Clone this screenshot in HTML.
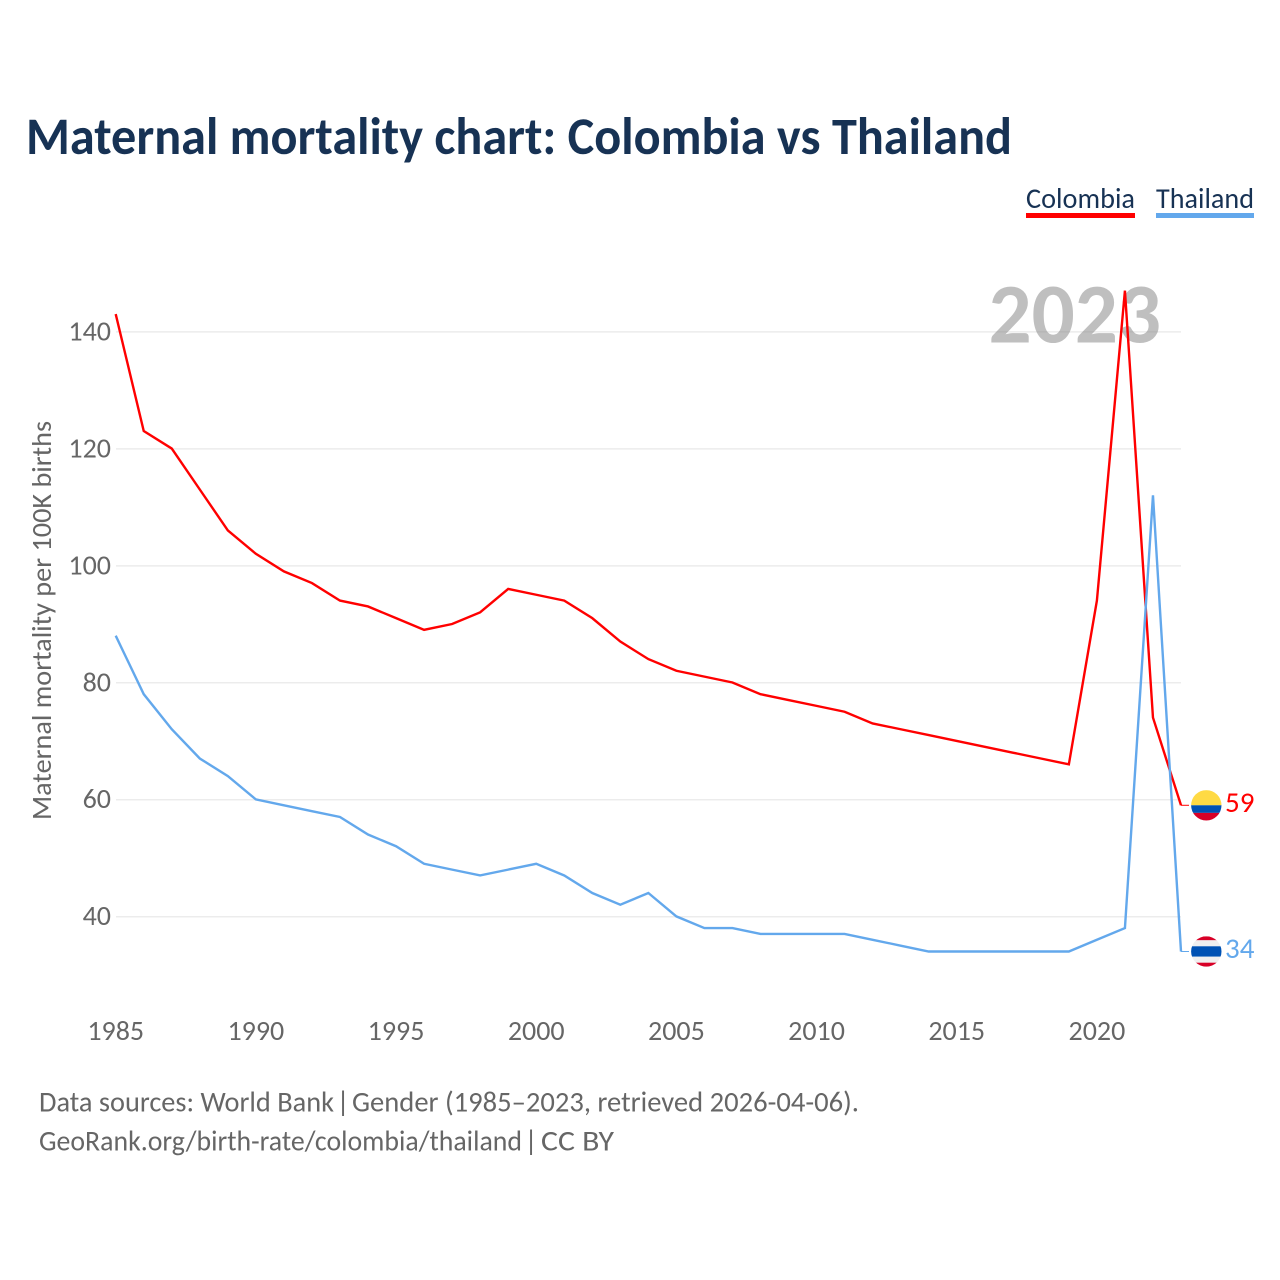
<!DOCTYPE html>
<html lang="en">
<head>
<meta charset="utf-8">
<title>Maternal mortality chart: Colombia vs Thailand</title>
<style>
html,body{margin:0;padding:0;background:#fff;}
svg{display:block;}
text{font-family:"Carlito","Liberation Sans",sans-serif;}
</style>
</head>
<body>
<svg id="chart" xmlns="http://www.w3.org/2000/svg" width="1280" height="1280" viewBox="0 0 1280 1280">
  <rect x="0" y="0" width="1280" height="1280" fill="#fff"/>
  <g id="grid"></g>
  <text x="988.5" y="342.5" font-size="85" font-weight="700" fill="#808080" fill-opacity="0.5" textLength="172.5" lengthAdjust="spacingAndGlyphs">2023</text>
  <g id="yticks"></g>
  <g id="xticks"></g>
  <g id="series"></g>
  <g id="ends"></g>

  <text x="26" y="154" font-size="53" font-weight="700" fill="#173254" textLength="986" lengthAdjust="spacingAndGlyphs">Maternal mortality chart: Colombia vs Thailand</text>

  <g>
    <text x="1026" y="208" font-size="29" fill="#173254" textLength="109" lengthAdjust="spacingAndGlyphs">Colombia</text>
    <rect x="1026" y="213" width="109" height="5" fill="#ff0000"/>
  </g>
  <g>
    <text x="1156" y="208" font-size="29" fill="#173254" textLength="98" lengthAdjust="spacingAndGlyphs">Thailand</text>
    <rect x="1156" y="213" width="98" height="5" fill="#63a8ec"/>
  </g>

  <text transform="translate(51,820) rotate(-90)" x="0" y="0" font-size="28" fill="#666" textLength="399" lengthAdjust="spacingAndGlyphs">Maternal mortality per 100K births</text>

  <g>
    <text x="39" y="1111.5" font-size="29" fill="#666" textLength="295" lengthAdjust="spacingAndGlyphs">Data sources: World Bank</text>
    <text x="343" y="1111.5" font-size="29" fill="#666" text-anchor="middle">|</text>
    <text x="352" y="1111.5" font-size="29" fill="#666" textLength="507" lengthAdjust="spacingAndGlyphs">Gender (1985–2023, retrieved 2026-04-06).</text>
  </g>
  <g>
    <text x="39" y="1150.5" font-size="29" fill="#666" textLength="483" lengthAdjust="spacingAndGlyphs">GeoRank.org/birth-rate/colombia/thailand</text>
    <text x="531" y="1150.5" font-size="29" fill="#666" text-anchor="middle">|</text>
    <text x="541" y="1150.5" font-size="29" fill="#666" textLength="73" lengthAdjust="spacingAndGlyphs">CC BY</text>
  </g>
</svg>
<script>
const years = [1985,1986,1987,1988,1989,1990,1991,1992,1993,1994,1995,1996,1997,1998,1999,2000,2001,2002,2003,2004,2005,2006,2007,2008,2009,2010,2011,2012,2013,2014,2015,2016,2017,2018,2019,2020,2021,2022,2023];
const colombiaValues = [143,123,120,113,106,102,99,97,94,93,91,89,90,92,96,95,94,91,87,84,82,81,80,78,77,76,75,73,72,71,70,69,68,67,66,94,147,74,59];
const thailandValues = [88,78,72,67,64,60,59,58,57,54,52,49,48,47,48,49,47,44,42,44,40,38,38,37,37,37,37,36,35,34,34,34,34,34,34,36,38,112,34];
const yTickValues = [40,60,80,100,120,140];
const xTickValues = [1985,1990,1995,2000,2005,2010,2015,2020];

const NS = 'http://www.w3.org/2000/svg';
const xScale = function (yr) { return 115.7 + (yr - 1985) * (1181 - 115.7) / 38; };
const yScale = function (v) { return 916.7 - (v - 40) * (916.7 - 331.9) / 100; };

function make(tag, attrs, parent) {
  const el = document.createElementNS(NS, tag);
  Object.keys(attrs).forEach(function (k) { el.setAttribute(k, attrs[k]); });
  parent.appendChild(el);
  return el;
}

const gridG = document.getElementById('grid');
const yG = document.getElementById('yticks');
yTickValues.forEach(function (v) {
  const ln = make('line', {x1: 116, x2: 1181, y1: yScale(v), y2: yScale(v), stroke: '#ececec', 'stroke-width': 1.5}, gridG);
  
  
  const t = make('text', {x: 111, y: yScale(v) + 8.5, 'text-anchor': 'end', 'font-size': 28, fill: '#666'}, yG);
  
  
  t.textContent = v;
});

const xG = document.getElementById('xticks');
xTickValues.forEach(function (yr) {
  const t = make('text', {x: xScale(yr), y: 1040, 'text-anchor': 'middle', 'font-size': 28, fill: '#666'}, xG);
  
  
  t.textContent = yr;
});

const seriesG = document.getElementById('series');
function drawLine(values, color, name) {
  const pts = values.map(function (v, i) { return xScale(years[i]).toFixed(2) + ',' + (yScale(v) - 0.3).toFixed(2); }).join(' ');
  const p = make('polyline', {points: pts, fill: 'none', stroke: color, 'stroke-width': 2.4, 'stroke-linejoin': 'miter'}, seriesG);
  
  
}
drawLine(colombiaValues, '#ff0000', 'colombia');
drawLine(thailandValues, '#63a8ec', 'thailand');

const endsG = document.getElementById('ends');
let clipCount = 0;
function drawEnd(values, color, name, bands) {
  const last = values[values.length - 1];
  const y = yScale(last) - 0.3;
  const lastYear = years[years.length - 1];
  const g = make('g', {}, endsG);
  
  
  const conn = make('line', {x1: xScale(lastYear), x2: 1189, y1: y, y2: y, stroke: color, 'stroke-width': 1}, g);
  
  
  clipCount++;
  const clipId = 'flag-clip-' + clipCount;
  const clip = make('clipPath', {id: clipId}, g);
  make('circle', {cx: 1206.3, cy: y, r: 15.2}, clip);
  const flag = make('g', {'clip-path': 'url(#' + clipId + ')'}, g);
  
  
  bands.forEach(function (b) {
    make('rect', {x: 1191, y: y - 15.2 + b[0], width: 31, height: b[1], fill: b[2]}, flag);
  });
  const t = make('text', {x: 1225, y: y + 6.5, 'font-size': 29, fill: color}, g);
  
  
  t.textContent = last;
}
drawEnd(colombiaValues, '#ff0000', 'colombia', [[0, 15.2, '#ffda44'], [15.2, 7.6, '#0052b4'], [22.8, 7.6, '#d80027']]);
drawEnd(thailandValues, '#63a8ec', 'thailand', [[0, 4, '#d80027'], [4, 6, '#f0f0f0'], [10, 10.4, '#0052b4'], [20.4, 6, '#f0f0f0'], [26.4, 4, '#d80027']]);
</script>
</body>
</html>
